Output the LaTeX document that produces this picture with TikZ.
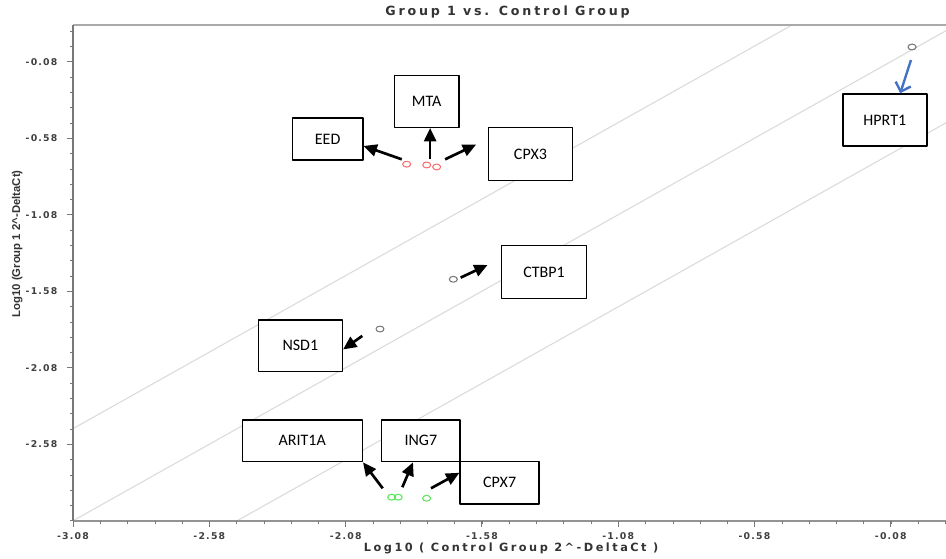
\documentclass[tikz,border=0pt]{standalone}
\usepackage{fontspec}
\setmainfont{Carlito}
\newfontfamily\tickfont[LetterSpace=13]{DejaVu Sans}
\newfontfamily\titlefont[LetterSpace=22]{DejaVu Sans}
\newfontfamily\ylabfont{Liberation Sans}
\usetikzlibrary{arrows.meta}
\definecolor{axisgray}{RGB}{120,120,120}
\definecolor{framegray}{RGB}{170,170,170}
\definecolor{diaggray}{RGB}{218,218,218}
\definecolor{ptgray}{RGB}{120,120,120}
\definecolor{ptred}{RGB}{250,110,110}
\definecolor{ptgreen}{RGB}{90,230,90}
\definecolor{arrowblue}{RGB}{68,114,196}
\tikzset{
  genebox/.style={draw=black, line width=1.1pt, fill=white, inner sep=0pt,
    font=\fontsize{12}{14}\selectfont},
  blk/.style={-{Triangle[length=10pt,width=9pt]}, line width=2pt},
  blu/.style={-{Straight Barb[length=6pt,width=12pt]}, draw=arrowblue, line width=1.8pt},
  diag/.style={draw=diaggray, line width=0.8pt},
  ticklab/.style={font=\tickfont\bfseries\fontsize{7}{8}\selectfont, text=black!75}
}
\begin{document}
\begin{tikzpicture}[x=7.186cm, y=4.034cm, line join=round]
	\def\xmin{-3.08} \def\xmax{0.12}
	\def\ymin{-3.08} \def\ymax{0.16} % Khung
	\useasboundingbox (-3.348,-3.3295) rectangle (0.1225,0.3232);
	% duong cheo
	\begin{scope}
		\clip (\xmin,\ymin) rectangle (0.1225,\ymax);
		\foreach \c in {-0.602,0,0.602}
			\draw[diag] (\xmin-1,\xmin-1+\c) -- (\xmax+1,\xmax+1+\c);
	\end{scope}
	% truc
	\draw[framegray, line width=1.5pt] (\xmin,\ymax) -- (0.1225,\ymax);
	\draw[axisgray!80, line width=1.5pt] (\xmin,\ymin) -- (0.1225,\ymin);
	\draw[axisgray, line width=1.5pt] (\xmin,\ymin) -- (\xmin,\ymax);
	\foreach \i in {0,...,32} {
		\draw[axisgray] ({\xmin+0.1*\i},\ymin) -- ++(0,-2.5pt);
		\draw[axisgray] (\xmin,{\ymin+0.1*\i}) -- ++(-2.5pt,0);
	}
	\foreach \v in {-3.08,-2.58,-2.08,-1.58,-1.08,-0.58,-0.08} {
		\draw[axisgray, line width=0.8pt] (\v,\ymin) -- ++(0,-4.5pt);
		\node[ticklab] (xt\v) at (\v,-3.178) {\v};
	}
	\foreach \v in {-2.58,-2.08,-1.58,-1.08,-0.58,-0.08} {
		\draw[axisgray, line width=0.8pt] (\xmin,\v) -- ++(-4.5pt,0);
		\node[ticklab, anchor=east] (yt\v) at (-3.120,\v) {\v};
	}
	\node[font=\titlefont\bfseries\fontsize{9.5}{11}\selectfont, text=black!80] (title) at (-1.486,0.245) {Group 1 vs. Control Group};
	\node[font=\titlefont\bfseries\fontsize{8.5}{10}\selectfont, text=black!80] (xlab) at (-1.473,-3.258) {Log10 ( Control Group 2\^{}-DeltaCt )};
	\node[font=\ylabfont\bfseries\fontsize{8.5}{10}\selectfont, text=black!80, rotate=90] (ylab) at (-3.285,-1.271) {Log10 (Group 1 2\^{}-DeltaCt)};
	% diem
	\foreach \p in {(-0.002,0.016),(-1.685,-1.502),(-1.954,-1.827)}
		\draw[ptgray, line width=0.8pt] \p ellipse (3pt and 2.2pt);
	\foreach \p in {(-1.856,-0.750),(-1.7825,-0.755),(-1.746,-0.768)}
		\draw[ptred, line width=0.8pt] \p ellipse (3pt and 2.2pt);
	\foreach \p in {(-1.911,-2.926),(-1.887,-2.926),(-1.783,-2.933)}
		\draw[ptgreen, line width=0.8pt] \p ellipse (3pt and 2.2pt);
	% hop ten gen
	\node[genebox, minimum width=52.8pt, minimum height=31.7pt] (eed) at (-2.146,-0.585) {EED};
	\node[genebox, minimum width=48.3pt, minimum height=38.7pt] (mta) at (-1.783,-0.340) {MTA};
	\node[genebox, minimum width=63.3pt, minimum height=40pt] (cpx3) at (-1.402,-0.683) {CPX3};
	\node[genebox, minimum width=63pt, minimum height=39pt] (hprt1) at (-0.102,-0.461) {HPRT1};
	\node[genebox, minimum width=63.75pt, minimum height=39.5pt] (ctbp1) at (-1.352,-1.454) {CTBP1};
	\node[genebox, minimum width=63pt, minimum height=38.8pt] (nsd1) at (-2.246,-1.936) {NSD1};
	\node[genebox, minimum width=90pt, minimum height=31.3pt] (arit1a) at (-2.239,-2.557) {ARIT1A};
	\node[genebox, minimum width=58.7pt, minimum height=31.3pt] (ing7) at (-1.804,-2.557) {ING7};
	\node[genebox, minimum width=59.3pt, minimum height=31.7pt] (cpx7) at (-1.515,-2.832) {CPX7};
	% mui ten
	\coordinate (teed) at (-1.874,-0.718);
	\coordinate (tmta) at (-1.770,-0.718);
	\coordinate (tcpx3) at (-1.715,-0.718);
	\coordinate (thprt1) at (-0.006,-0.069);
	\coordinate (tctbp1) at (-1.658,-1.491);
	\coordinate (tnsd1) at (-2.019,-1.872);
	\coordinate (tarit1a) at (-1.944,-2.868);
	\coordinate (ting7) at (-1.872,-2.861);
	\coordinate (tcpx7) at (-1.767,-2.868);
	\draw[blk] (teed) -- (eed.-11);
	\draw[blk] (tmta) -- (tmta |- mta.south);
	\draw[blk, shorten >=9.5pt] (tcpx3) -- (cpx3.161);
	\draw[blk, shorten >=11pt] (tctbp1) -- (ctbp1.163);
	\draw[blk] (tnsd1) -- (nsd1.-5);
	\draw[blk] (tarit1a) -- (arit1a.south east);
	\draw[blk] (ting7) -- (ing7.-110);
	\draw[blk] (tcpx7) -- (cpx7.166);
	\draw[blu] (thprt1) -- (hprt1.60);
\end{tikzpicture}
\end{document}
